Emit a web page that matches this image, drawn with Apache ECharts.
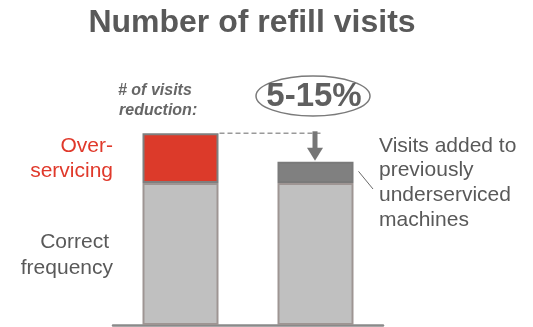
<!DOCTYPE html>
<html>
<head>
<meta charset="utf-8">
<script src="https://cdn.jsdelivr.net/npm/echarts@6/dist/echarts.min.js"></script>
<style>
  html, body { margin: 0; padding: 0; background: #ffffff; }
  #chart { width: 533px; height: 327px; }
</style>
</head>
<body>
<div id="chart"></div>
<script>
// Refill visits: today vs. after optimisation
const categories = ['Current', 'Optimised'];
const correctFrequency = [100, 100];
const overServicing = [35, null];
const addedVisits = [null, 15];
const reductionLabel = '5-15%';

const FONT = '"Liberation Sans", Arial, sans-serif';
const GREY_TEXT = '#595959';

const chart = echarts.init(document.getElementById('chart'), null, { renderer: 'canvas' });

const segmentStyle = (fill, border) => ({ color: fill, borderColor: border, borderWidth: 2 });

chart.setOption({
  animation: false,
  backgroundColor: '#ffffff',
  grid: { left: 113, right: 150, top: 41, bottom: 2 },
  xAxis: {
    type: 'category',
    data: categories,
    axisLine: { lineStyle: { color: '#8a8a8a', width: 2.5 } },
    axisTick: { show: false },
    axisLabel: { show: false }
  },
  yAxis: {
    type: 'value',
    min: 0,
    max: 200,
    show: false,
    splitLine: { show: false }
  },
  series: [
    {
      name: 'Correct frequency',
      type: 'bar',
      stack: 'visits',
      barWidth: 76,
      data: correctFrequency,
      itemStyle: segmentStyle('#c0c0c0', '#9e9593')
    },
    {
      name: 'Over-servicing',
      type: 'bar',
      stack: 'visits',
      data: overServicing,
      itemStyle: segmentStyle('#dc3a2a', '#7f7f7f')
    },
    {
      name: 'Visits added',
      type: 'bar',
      stack: 'visits',
      data: addedVisits,
      itemStyle: segmentStyle('#808080', '#7a7a7a')
    }
  ]
});

// Annotations placed from the axis scales
const barHalf = 38;
const total0 = correctFrequency[0] + overServicing[0];
const total1 = correctFrequency[1] + addedVisits[1];
const x0 = chart.convertToPixel({ xAxisIndex: 0 }, categories[0]);
const x1 = chart.convertToPixel({ xAxisIndex: 0 }, categories[1]);
const yTop0 = chart.convertToPixel({ yAxisIndex: 0 }, total0);
const yTop1 = chart.convertToPixel({ yAxisIndex: 0 }, total1);
const ySplit = chart.convertToPixel({ yAxisIndex: 0 }, correctFrequency[0]);

const txt = (text, x, y, opts) => ({
  type: 'text',
  x, y,
  silent: true,
  style: Object.assign({
    text,
    fontFamily: FONT,
    fontSize: 21,
    fill: GREY_TEXT,
    align: 'left',
    verticalAlign: 'middle'
  }, opts || {})
});

const arrowX = x1 - 0.5;
const arrowTop = yTop0 - 2;
const headTop = yTop1 - 14;

chart.setOption({
  graphic: [
    // chart title
    txt('Number of refill visits', 252, 23, { fontSize: 32, fontWeight: 'bold', align: 'center' }),
    // dashed guide from the current bar's top
    {
      type: 'line', silent: true,
      shape: { x1: x0 + barHalf + 1, y1: yTop0, x2: x1 + 6, y2: yTop0 },
      style: { stroke: '#9a9a9a', lineWidth: 1.5, lineDash: [5, 3] }
    },
    // downward arrow onto the optimised bar
    {
      type: 'rect', silent: true,
      shape: { x: arrowX - 2.5, y: arrowTop, width: 5, height: headTop - arrowTop + 1 },
      style: { fill: '#767676' }
    },
    {
      type: 'polygon', silent: true,
      shape: { points: [[arrowX - 8, headTop], [arrowX + 8, headTop], [arrowX, yTop1 - 1]] },
      style: { fill: '#767676' }
    },
    // reduction badge
    {
      type: 'ellipse', silent: true,
      shape: { cx: 313, cy: 96, rx: 57, ry: 20 },
      style: { fill: '#ffffff', stroke: '#7a7a7a', lineWidth: 1.5 }
    },
    txt(reductionLabel, 314, 97, { fontSize: 33, fontWeight: 'bold', align: 'center', fill: '#5f5f5f' }),
    txt('# of visits', 118, 91, { fontSize: 16, fontWeight: 'bold', fontStyle: 'italic', fill: '#666666' }),
    txt('reduction:', 119, 111, { fontSize: 16, fontWeight: 'bold', fontStyle: 'italic', fill: '#666666' }),
    // left-hand segment labels
    txt('Over-', 113, 146, { align: 'right', fill: '#e0392b' }),
    txt('servicing', 113, 171, { align: 'right', fill: '#e0392b' }),
    txt('Correct', 109, 242, { align: 'right' }),
    txt('frequency', 113, 268, { align: 'right' }),
    // right-hand note with leader line
    {
      type: 'line', silent: true,
      shape: { x1: x1 + barHalf + 5, y1: (yTop1 + ySplit) / 2 - 1, x2: 373, y2: 189 },
      style: { stroke: '#6a6a6a', lineWidth: 1 }
    },
    txt('Visits added to', 379, 146),
    txt('previously', 379, 170),
    txt('underserviced', 379, 195),
    txt('machines', 379, 220)
  ]
});
</script>
</body>
</html>
